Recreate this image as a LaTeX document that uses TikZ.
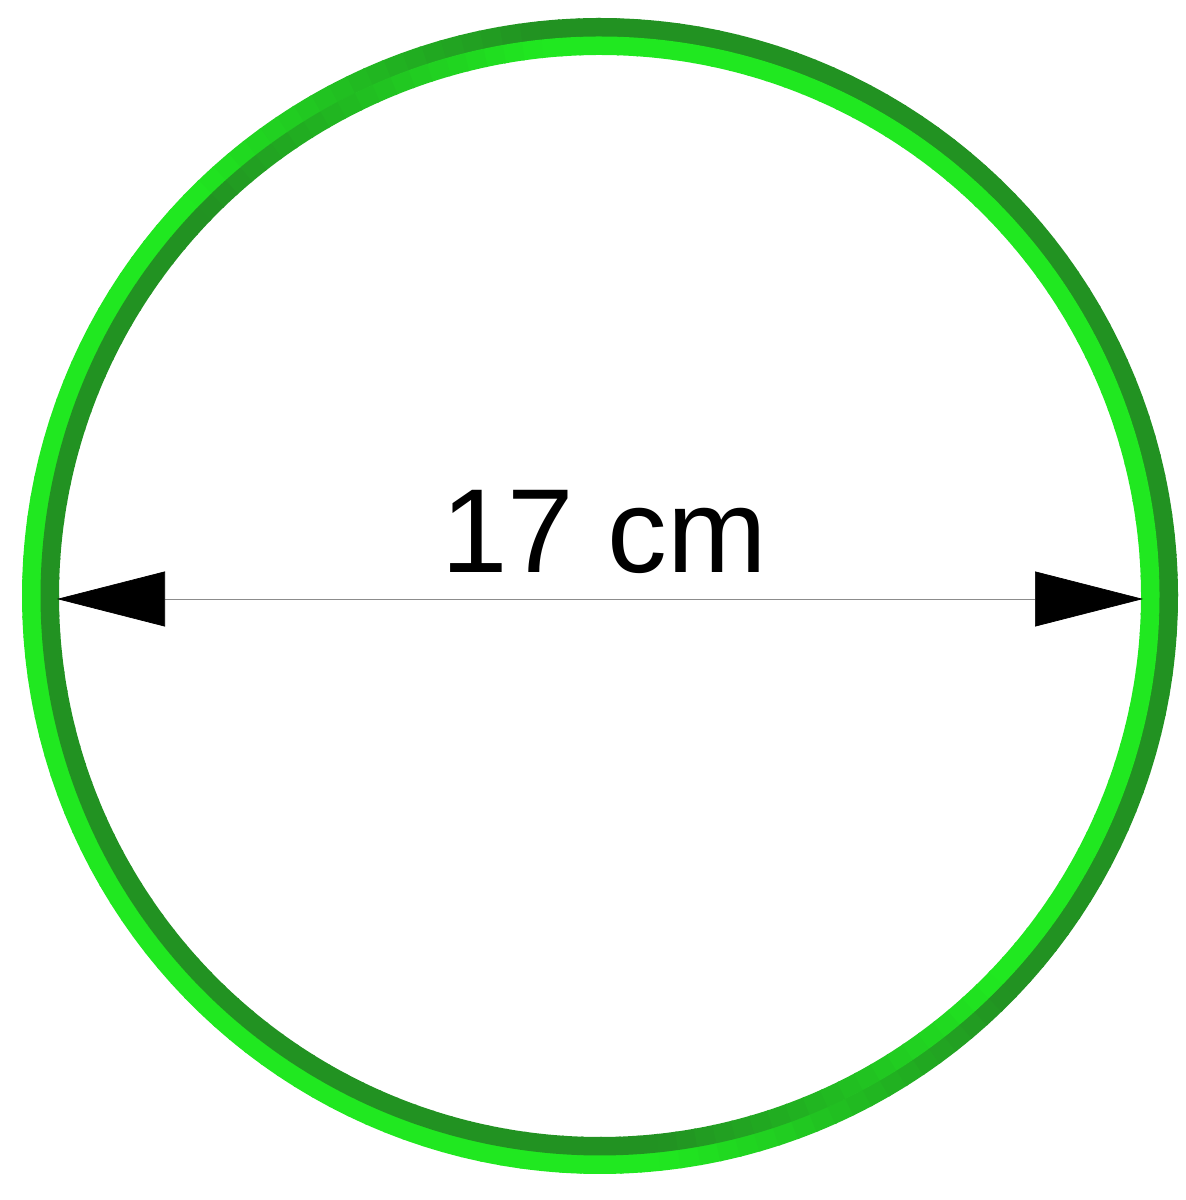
\documentclass[tikz,border=0pt]{standalone}
\usepackage{fontspec}
\setmainfont{Liberation Sans}
\usetikzlibrary{arrows.meta}
\definecolor{ringlight}{RGB}{32,232,32}
\definecolor{ringdark}{RGB}{34,146,34}
\tikzset{
  % dimension line with big filled tips
  dimline/.style={draw=black!45, line width=0.4pt,
    {Triangle[length=2.16cm,width=1.1cm,black]}-{Triangle[length=2.16cm,width=1.1cm,black]}},
  dimlabel/.style={font=\fontsize{68}{82}\selectfont, anchor=base, inner sep=0pt},
}
\begin{document}
\begin{tikzpicture}
            \useasboundingbox[fill=white] (0,0) rectangle (23.7,24);

            % ring: outer and inner bevel, lit from the lower left
            \begin{scope}[shift={(12.0,12.08)}]
              \foreach \a in {0,2,...,358}{
                \pgfmathsetmacro{\c}{cos(\a+1-206)}
                \pgfmathtruncatemacro{\pout}{max(0,min(100,50+150*\c))}
                \pgfmathtruncatemacro{\pin}{max(0,min(100,50-150*\c))}
                \fill[ringlight!\pout!ringdark] (\a:11.56) arc[start angle=\a, end angle=\a+2.2, radius=11.56]
                  -- (\a+2.2:11.18) arc[start angle=\a+2.2, end angle=\a, radius=11.18] -- cycle;
                \fill[ringlight!\pin!ringdark] (\a:11.19) arc[start angle=\a, end angle=\a+2.2, radius=11.19]
                  -- (\a+2.2:10.82) arc[start angle=\a+2.2, end angle=\a, radius=10.82] -- cycle;
              }
            \end{scope}

            \coordinate (left) at (1.14,12.02);
            \coordinate (right) at (22.86,12.02);
            \draw[dimline] (left) -- (right);

            \node[dimlabel] (diam) at (12.08,12.54) {17 cm};
        \end{tikzpicture}
\end{document}
